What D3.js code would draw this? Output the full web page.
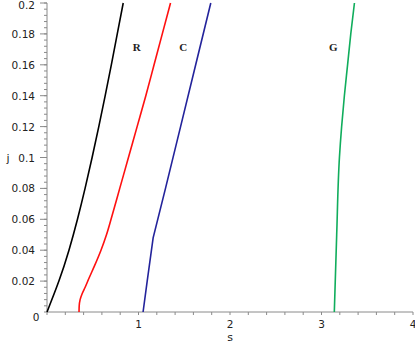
<!DOCTYPE html>
<html>
<head>
<meta charset="utf-8">
<script src="https://cdn.jsdelivr.net/npm/d3@7"></script>
<style>
  html, body { margin: 0; padding: 0; background: #fff; }
  svg { display: block; }
</style>
</head>
<body>
<svg id="chart" width="415" height="346"></svg>
<script>
// ---- data (s along x, j along y) ----
const jRed = [0, 0.004, 0.008, 0.012, 0.016, 0.022, 0.03, 0.04, 0.05, 0.06, 0.08, 0.1, 0.12, 0.14, 0.16, 0.18, 0.2];
const sRed = [0.35, 0.352, 0.362, 0.385, 0.417, 0.46, 0.52, 0.59, 0.65, 0.70, 0.795, 0.89, 0.985, 1.08, 1.17, 1.26, 1.35];

const jBlack = [0, 0.02, 0.04, 0.06, 0.08, 0.1, 0.12, 0.14, 0.16, 0.18, 0.2];
const sBlack = [0, 0.13, 0.24, 0.333, 0.416, 0.493, 0.566, 0.636, 0.703, 0.768, 0.833];

const jBlue = [0, 0.02, 0.048, 0.08, 0.12, 0.16, 0.2];
const sBlue = [1.05, 1.095, 1.16, 1.295, 1.46, 1.625, 1.79];

const jGreen = [0, 0.05, 0.1, 0.12, 0.14, 0.16, 0.18, 0.2];
const sGreen = [3.14, 3.166, 3.196, 3.22, 3.25, 3.285, 3.32, 3.36];

const xTicks = [1, 2, 3, 4];
const yTicks = [0.02, 0.04, 0.06, 0.08, 0.1, 0.12, 0.14, 0.16, 0.18, 0.2];
const curveLabels = ["R", "C", "G"];
const labelS = [0.98, 1.49, 3.13];
const labelJ = [0.169, 0.169, 0.169];

// ---- layout ----
const svg = d3.select("#chart");
const x = d3.scaleLinear().domain([0, 4]).range([47, 413]);
const y = d3.scaleLinear().domain([0, 0.2]).range([312, 3]);
const axisColor = "#8a8a8a";
const tickFont = "DejaVu Sans, sans-serif";

// x axis
const gx = svg.append("g").attr("transform", `translate(0,${y(0)})`);
gx.append("line").attr("x1", x(0)).attr("x2", x(4)).attr("stroke", axisColor).attr("stroke-width", 1);
const xMinor = d3.range(0, 4.0001, 0.2);
gx.selectAll("line.mx").data(xMinor).join("line")
  .attr("x1", d => x(d)).attr("x2", d => x(d)).attr("y1", 0).attr("y2", 3)
  .attr("stroke", axisColor).attr("stroke-width", 1);
gx.selectAll("text").data(xTicks).join("text")
  .attr("x", d => x(d)).attr("y", 16)
  .attr("text-anchor", "middle").attr("font-family", tickFont).attr("font-size", 10.5)
  .attr("fill", "#222").text(d => d3.format("d")(d));

// y axis
const gy = svg.append("g").attr("transform", `translate(${x(0)},0)`);
gy.append("line").attr("y1", y(0)).attr("y2", y(0.2)).attr("stroke", axisColor).attr("stroke-width", 1);
const yMinor = d3.range(0, 0.2001, 0.004);
gy.selectAll("line.my").data(yMinor).join("line")
  .attr("x1", -3).attr("x2", 0).attr("y1", d => y(d)).attr("y2", d => y(d))
  .attr("stroke", axisColor).attr("stroke-width", 1);
gy.selectAll("line.My").data(yTicks).join("line")
  .attr("x1", -7).attr("x2", 0).attr("y1", d => y(d)).attr("y2", d => y(d))
  .attr("stroke", axisColor).attr("stroke-width", 1);
gy.selectAll("text").data(yTicks).join("text")
  .attr("x", -12).attr("y", d => Math.max(y(d) + 4, 9))
  .attr("text-anchor", "end").attr("font-family", tickFont).attr("font-size", 10.5)
  .attr("fill", "#222").text(d => d3.format("~g")(d));
// origin label
svg.append("text").attr("x", 36).attr("y", 321).attr("text-anchor", "middle")
  .attr("font-family", tickFont).attr("font-size", 10.5).attr("fill", "#222").text("0");

// axis titles
svg.append("text").attr("x", 8).attr("y", y(0.1) + 4).attr("text-anchor", "middle")
  .attr("font-family", tickFont).attr("font-size", 11).attr("fill", "#222").text("j");
svg.append("text").attr("x", x(2)).attr("y", 341).attr("text-anchor", "middle")
  .attr("font-family", tickFont).attr("font-size", 11).attr("fill", "#222").text("s");

// curves
const series = [
  { s: sBlack, j: jBlack, color: "#000000", curve: d3.curveNatural },
  { s: sRed, j: jRed, color: "#ff1010", curve: d3.curveMonotoneY },
  { s: sBlue, j: jBlue, color: "#23239b", curve: d3.curveLinear },
  { s: sGreen, j: jGreen, color: "#10ad5c", curve: d3.curveMonotoneY }
];
series.forEach(sr => {
  const pts = sr.s.map((v, i) => [v, sr.j[i]]);
  svg.append("path").datum(pts)
    .attr("d", d3.line().x(d => x(d[0])).y(d => y(d[1])).curve(sr.curve))
    .attr("fill", "none").attr("stroke", sr.color).attr("stroke-width", 1.6);
});

// curve labels
svg.selectAll("text.cl").data(curveLabels).join("text")
  .attr("class", "cl")
  .attr("x", (d, i) => x(labelS[i])).attr("y", (d, i) => y(labelJ[i]))
  .attr("text-anchor", "middle").attr("font-family", "Liberation Serif, serif")
  .attr("font-size", 11).attr("font-weight", "bold").attr("fill", "#222").text(d => d);
</script>
</body>
</html>
